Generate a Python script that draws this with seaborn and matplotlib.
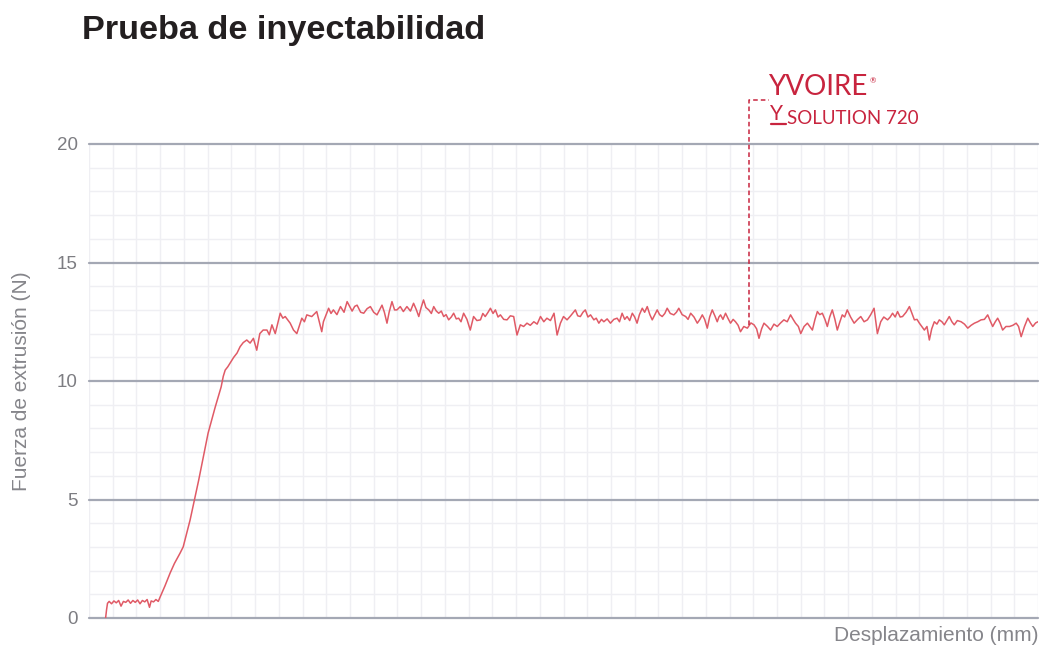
import matplotlib
matplotlib.use("Agg")
import matplotlib.pyplot as plt
import seaborn as sns
import pandas as pd

# Curve (displacement in mm, force in N)
disp = [0.70, 0.74, 0.78, 0.85, 0.95, 1.05, 1.15, 1.25, 1.35, 1.45, 1.55, 1.65, 1.75, 1.85, 1.95,
        2.05, 2.15, 2.25, 2.35, 2.45, 2.55, 2.62, 2.72, 2.82, 2.92, 3.00, 3.20, 3.42, 3.60, 3.84,
        3.97, 4.10, 4.26, 4.47, 4.62, 4.77, 4.90, 5.02, 5.17, 5.32, 5.45, 5.57, 5.66, 5.74, 5.85,
        5.95, 6.10, 6.24,
        6.37, 6.50, 6.65, 6.79, 6.93, 7.07, 7.20, 7.34, 7.50, 7.60, 7.71, 7.85, 8.06, 8.17, 8.27,
        8.48, 8.62, 8.76, 8.97, 9.08, 9.18, 9.39, 9.60, 9.81, 9.88, 10.1, 10.2, 10.3, 10.45, 10.6,
        10.75, 10.88, 11.09, 11.2, 11.3, 11.45, 11.58, 11.72, 11.86, 12.0, 12.14, 12.25, 12.35,
        12.45, 12.56, 12.65, 12.77, 12.88, 12.98, 13.12,
        13.25, 13.4, 13.55, 13.68, 13.8, 13.9, 14.0, 14.1, 14.2, 14.32, 14.43, 14.53, 14.64, 14.74,
        14.85, 14.95, 15.05, 15.16, 15.27, 15.37, 15.48, 15.58, 15.68, 15.79, 15.93, 16.07, 16.21,
        16.35, 16.5, 16.6, 16.7, 16.82, 16.92, 17.03, 17.13, 17.24, 17.34, 17.48, 17.62, 17.76,
        17.9, 18.04, 18.18, 18.32, 18.46, 18.6, 18.75, 18.89, 19.03, 19.17, 19.3, 19.45, 19.6,
        19.73, 19.87,
        20.0, 20.15, 20.3, 20.5, 20.6, 20.71, 20.82, 20.92, 21.03, 21.14, 21.28, 21.38, 21.49, 21.6,
        21.7, 21.84, 21.98, 22.12, 22.26, 22.36, 22.47, 22.58, 22.68, 22.79, 22.9, 23.0, 23.1, 23.2,
        23.32, 23.42, 23.53, 23.64, 23.74, 23.85, 23.95, 24.05, 24.16, 24.27, 24.37, 24.5, 24.65,
        24.76, 24.86, 25.0, 25.15, 25.25, 25.36, 25.5, 25.64, 25.75, 25.85, 25.95, 26.06, 26.16,
        26.27, 26.38, 26.48, 26.55,
        26.62, 26.72, 26.83, 26.93, 27.04, 27.15, 27.25, 27.36, 27.46, 27.6, 27.75, 27.9, 28.03,
        28.14, 28.24, 28.35, 28.45, 28.6, 28.73, 28.87, 29.01, 29.15, 29.29, 29.43, 29.57, 29.68,
        29.78, 29.9, 30.0, 30.14, 30.28, 30.38, 30.49, 30.6, 30.7, 30.8, 30.91, 31.02, 31.12, 31.22,
        31.33, 31.44, 31.54, 31.65, 31.75, 31.85, 31.96, 32.1, 32.25, 32.4, 32.53, 32.67, 32.81,
        32.95, 33.09, 33.23, 33.37,
        33.5, 33.66, 33.77, 33.87, 33.98, 34.08, 34.19, 34.29, 34.44, 34.58, 34.69, 34.79, 34.9,
        35.0, 35.1, 35.21, 35.32, 35.42, 35.52, 35.63, 35.74, 35.84, 35.95, 36.05, 36.16, 36.26,
        36.37, 36.47, 36.6, 36.76, 36.9, 37.04, 37.18, 37.32, 37.46, 37.6, 37.74, 37.88, 37.98,
        38.09, 38.2, 38.3, 38.4, 38.51, 38.65, 38.8, 38.94, 39.08, 39.18, 39.29, 39.43, 39.57,
        39.68, 39.78, 39.9, 40.0]

force = [0.0, 0.35, 0.62, 0.70, 0.60, 0.72, 0.64, 0.74, 0.50, 0.70, 0.66, 0.76, 0.62, 0.74, 0.66,
         0.76, 0.60, 0.74, 0.68, 0.78, 0.45, 0.72, 0.68, 0.78, 0.70, 0.89, 1.35, 1.90, 2.30, 2.74,
         3.00, 3.50, 4.13, 5.10, 5.80, 6.54, 7.20, 7.80, 8.35, 8.90, 9.35, 9.75, 10.2, 10.46, 10.60,
         10.76, 11.0, 11.18,
         11.45, 11.62, 11.73, 11.6, 11.8, 11.30, 12.0, 12.15, 12.15, 11.95, 12.37, 12.0, 12.86, 12.65, 12.72,
         12.44, 12.15, 12.0, 12.65, 12.5, 12.79, 12.72, 12.93, 12.08, 12.5, 13.07, 12.85, 13.0, 12.8, 13.14,
         12.9, 13.35, 12.95, 13.15, 13.2, 12.9, 12.86, 13.05, 13.14, 12.9, 12.79, 13.0, 13.2,
         12.9, 12.44, 12.9, 13.35, 13.0, 13.0, 13.14,
         12.93, 13.14, 12.95, 13.28, 13.0, 12.72, 13.1, 13.42, 13.1, 13.0, 12.85, 13.14, 12.95, 12.86,
         12.95, 12.72, 12.8, 12.58, 12.7, 12.86, 12.62, 12.65, 12.5, 12.86, 12.6, 12.15, 12.72,
         12.55, 12.58, 12.85, 12.72, 12.9, 13.07, 12.85, 13.0, 12.7, 12.79, 12.6, 12.58, 12.75,
         12.72, 11.94, 12.37, 12.3, 12.44, 12.35, 12.5, 12.4, 12.72, 12.5, 12.65, 12.55, 12.86,
         11.94, 12.44,
         12.72, 12.58, 12.75, 13.0, 12.75, 12.72, 12.9, 13.0, 12.7, 12.79, 12.58, 12.65, 12.44, 12.6,
         12.5, 12.62, 12.44, 12.6, 12.65, 12.5, 12.86, 12.6, 12.72, 12.55, 12.86, 12.7, 12.44, 12.8,
         13.07, 12.9, 13.14, 12.8, 12.58, 12.8, 13.0, 12.8, 12.72, 12.85, 13.07, 12.85, 12.79,
         12.9, 13.07, 12.8, 12.72, 12.6, 12.86, 12.7, 12.44, 12.6, 12.79, 12.6, 12.23, 12.7,
         13.0, 12.75, 12.5, 12.7,
         12.79, 12.6, 12.86, 12.65, 12.44, 12.6, 12.5, 12.35, 12.08, 12.3, 12.23, 12.45, 12.37,
         12.2, 11.8, 12.2, 12.44, 12.3, 12.15, 12.4, 12.3, 12.45, 12.58, 12.5, 12.79, 12.6,
         12.44, 12.3, 12.0, 12.3, 12.44, 12.3, 12.15, 12.6, 12.93, 12.8, 12.86, 12.6, 12.3, 12.7,
         13.0, 12.6, 12.15, 12.5, 12.79, 12.7, 13.0, 12.7, 12.44, 12.6, 12.72, 12.5, 12.58,
         12.8, 13.07, 12.0, 12.5,
         12.7, 12.58, 12.7, 12.86, 12.7, 12.93, 12.7, 12.72, 12.9, 13.14, 12.85, 12.58, 12.6,
         12.44, 12.3, 12.15, 12.3, 11.73, 12.2, 12.5, 12.4, 12.58, 12.5, 12.37, 12.55, 12.72,
         12.5, 12.37, 12.55, 12.5, 12.4, 12.23, 12.35, 12.44, 12.5, 12.58, 12.6, 12.79, 12.55,
         12.3, 12.5, 12.65, 12.45, 12.15, 12.3, 12.3, 12.35, 12.44, 12.3, 11.87, 12.3, 12.65,
         12.45, 12.3, 12.45, 12.5]

y_major = [0, 5, 10, 15, 20]
title = "Prueba de inyectabilidad"
ylabel = "Fuerza de extrusión (N)"
xlabel = "Desplazamiento (mm)"

df = pd.DataFrame({"disp": disp, "force": force})

sns.set_style("white")
plt.rcParams["font.family"] = ["Liberation Sans", "DejaVu Sans"]

fig = plt.figure(figsize=(10.43, 6.57), dpi=100)
ax = fig.add_axes([89 / 1043, 1 - 618 / 657, 949 / 1043, (618 - 144) / 657])

# light minor grid every 1 unit
for v in range(0, 41):
    ax.axvline(v, color="#efeff3", lw=1, zorder=0)
for v in range(0, 21):
    if v not in y_major:
        ax.axhline(v, color="#efeff3", lw=1, zorder=0)
for v in y_major:
    ax.axhline(v, color="#a4a8b4", lw=1.6, zorder=1, clip_on=False)

sns.lineplot(data=df, x="disp", y="force", ax=ax, color="#e05a66", lw=1.1,
             sort=False, zorder=3)

ax.set_xlim(0, 40)
ax.set_ylim(0, 20)
ax.set_xticks([])
ax.set_yticks(y_major)
ax.set_yticklabels([str(v) for v in y_major])
ax.tick_params(axis="y", length=0, pad=8, labelsize=13.5, labelcolor="#7d7d82")
for s in ax.spines.values():
    s.set_visible(False)

ax.set_xlabel("")
ax.set_ylabel(ylabel, fontsize=15, color="#85858a")
ax.yaxis.set_label_coords(-0.061, 0.5)

fig.text(1038 / 1043, 1 - 641 / 657, xlabel, ha="right", va="baseline",
         fontsize=15, color="#85858a")
fig.text(82 / 1043, 1 - 39 / 657, title, ha="left", va="baseline",
         fontsize=24.7, fontweight="bold", color="#231f20")

# brand callout
red = "#c8243e"
brand_font = ["Lato", "DejaVu Sans"]
ax.plot([27.8, 27.8, 28.65], [12.35, 21.86, 21.86], ls=(0, (3, 2)), lw=1.1,
        color=red, clip_on=False, zorder=4)
fig.text(768 / 1043, 1 - 95 / 657, "YVOIRE", ha="left", va="baseline",
         fontsize=20, color=red, family=brand_font)
fig.text(870 / 1043, 1 - 83 / 657, "®", ha="left", va="baseline",
         fontsize=5.5, color=red, family=brand_font)
fig.text(770 / 1043, 1 - 120 / 657, "Y", ha="left", va="baseline",
         fontsize=15, color=red, family=brand_font)
fig.add_artist(plt.Line2D([771 / 1043, 786 / 1043], [1 - 124 / 657, 1 - 124 / 657],
                          color=red, lw=1.6))
fig.text(787 / 1043, 1 - 124 / 657, "SOLUTION 720", ha="left", va="baseline",
         fontsize=13.5, color=red, family=brand_font)

fig.savefig("out.png", dpi=100)
